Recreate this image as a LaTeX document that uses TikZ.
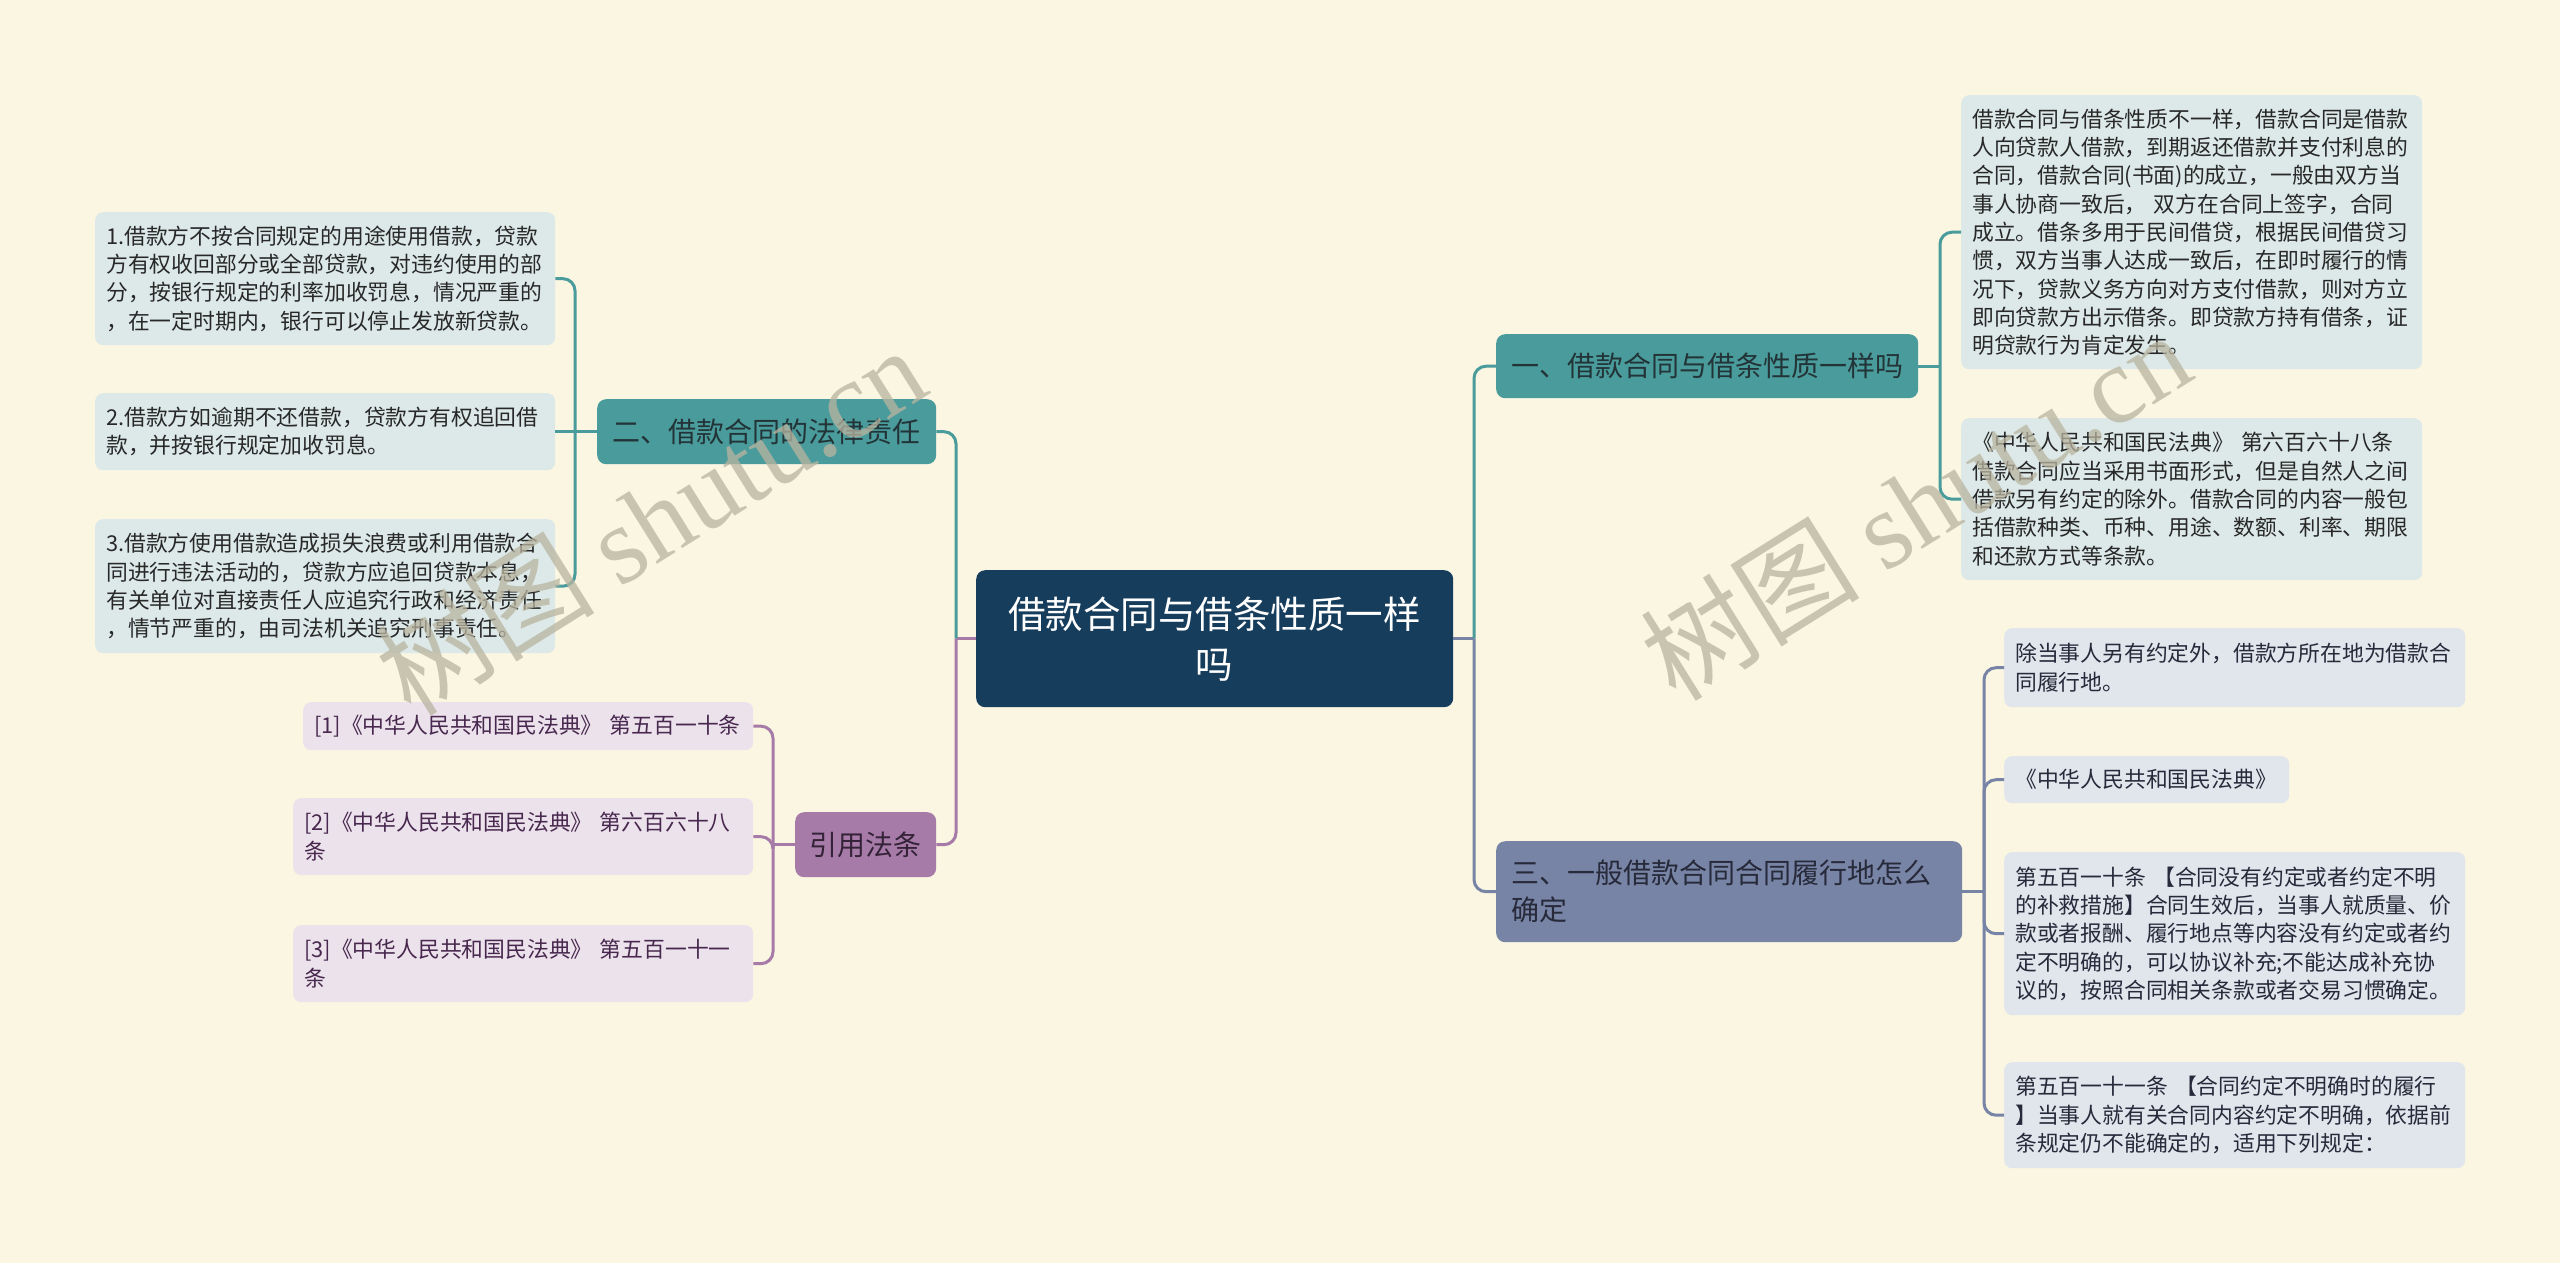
\documentclass[tikz,border=0pt]{standalone}
\usepackage{fontspec}
\setmainfont{Noto Sans CJK SC}
\newfontfamily\wmcjk{Noto Sans CJK SC}
\newfontfamily\wmserif{Liberation Serif}
\usetikzlibrary{calc}
\definecolor{bgc}{RGB}{250,246,226}
\definecolor{ctrc}{RGB}{23,61,92}
\definecolor{tealc}{RGB}{74,155,155}
\definecolor{purc}{RGB}{167,123,168}
\definecolor{slatec}{RGB}{120,132,165}
\definecolor{tealleaf}{RGB}{220,233,232}
\definecolor{purleaf}{RGB}{236,226,236}
\definecolor{slateleaf}{RGB}{225,229,236}
\definecolor{tealtxt}{RGB}{35,52,56}
\definecolor{purtxt}{RGB}{52,34,56}
\definecolor{slatetxt}{RGB}{38,42,58}
\definecolor{leaftxt}{RGB}{40,40,40}
\definecolor{purleaftxt}{RGB}{72,40,78}
\definecolor{wmc}{RGB}{185,180,160}
\tikzset{
  boxbase/.style={anchor=north west, inner ysep=0pt, rounded corners=8pt},
  leafbox/.style={boxbase, inner xsep=11pt, align=left,
    font=\fontsize{21.8pt}{28.3pt}\selectfont},
  leafT/.style={leafbox, fill=tealleaf, text=leaftxt},
  leafP/.style={leafbox, fill=purleaf, text=purleaftxt},
  leafS/.style={leafbox, fill=slateleaf, text=slatetxt},
  branchbox/.style={boxbase, inner xsep=15pt, rounded corners=9pt,
    font=\fontsize{28pt}{37pt}\selectfont},
  centerbox/.style={boxbase, inner xsep=18pt, align=center, fill=ctrc, text=white,
    rounded corners=9pt, font=\fontsize{37.5pt}{50pt}\selectfont},
  lnk/.style={line width=3pt, rounded corners=12pt},
  tealline/.style={lnk, draw=tealc},
  purline/.style={lnk, draw=purc},
  slateline/.style={lnk, draw=slatec},
  wm/.style={text=wmc, opacity=0.75, font=\fontsize{110pt}{120pt}\selectfont}
}
\begin{document}
\begin{tikzpicture}[x=1pt,y=-1pt]
\fill[bgc] (0,0) rectangle (2560,1263);
\useasboundingbox (0,0) rectangle (2560,1263);

% center
\node[centerbox, minimum width=477pt, minimum height=137pt, text width=441pt] (c) at (976,570)
  {借款合同与借条性质一样\\吗};

% branches
\node[branchbox, fill=tealc, text=tealtxt, minimum width=422pt, minimum height=64pt] (b1) at (1496,334)
  {一、借款合同与借条性质一样吗};
\node[branchbox, fill=tealc, text=tealtxt, minimum width=339pt, minimum height=65pt] (b2) at (597,399)
  {二、借款合同的法律责任};
\node[branchbox, fill=slatec, text=slatetxt, align=left, minimum width=466pt, minimum height=101pt, text width=436pt] (b3) at (1496,841)
  {三、一般借款合同合同履行地怎么\\确定};
\node[branchbox, fill=purc, text=purtxt, minimum width=141pt, minimum height=65pt, inner xsep=0pt] (b4) at (795,812)
  {引用法条};

% left leaves
\node[leafT, minimum width=460pt, minimum height=133pt, text width=438pt] (l1) at (95,212)
  {1.借款方不按合同规定的用途使用借款，贷款\\方有权收回部分或全部贷款，对违约使用的部\\分，按银行规定的利率加收罚息，情况严重的\\，在一定时期内，银行可以停止发放新贷款。};
\node[leafT, minimum width=460pt, minimum height=77pt, text width=438pt] (l2) at (95,393)
  {2.借款方如逾期不还借款，贷款方有权追回借\\款，并按银行规定加收罚息。};
\node[leafT, minimum width=460pt, minimum height=134pt, text width=438pt] (l3) at (95,519)
  {3.借款方使用借款造成损失浪费或利用借款合\\同进行违法活动的，贷款方应追回贷款本息，\\有关单位对直接责任人应追究行政和经济责任\\，情节严重的，由司法机关追究刑事责任。};

\node[leafP, minimum width=450pt, minimum height=48pt, text width=428pt] (r1) at (303,702)
  {[1]《中华人民共和国民法典》 第五百一十条};
\node[leafP, minimum width=460pt, minimum height=77pt, text width=438pt] (r2) at (293,798)
  {[2]《中华人民共和国民法典》 第六百六十八\\条};
\node[leafP, minimum width=460pt, minimum height=77pt, text width=438pt] (r3) at (293,925)
  {[3]《中华人民共和国民法典》 第五百一十一\\条};

% right leaves
\node[leafT, minimum width=461pt, minimum height=274pt, text width=439pt] (a1) at (1961,95)
  {借款合同与借条性质不一样，借款合同是借款\\人向贷款人借款，到期返还借款并支付利息的\\合同，借款合同(书面)的成立，一般由双方当\\事人协商一致后， 双方在合同上签字，合同\\成立。借条多用于民间借贷，根据民间借贷习\\惯，双方当事人达成一致后，在即时履行的情\\况下，贷款义务方向对方支付借款，则对方立\\即向贷款方出示借条。即贷款方持有借条，证\\明贷款行为肯定发生。};
\node[leafT, minimum width=461pt, minimum height=162pt, text width=439pt] (a2) at (1961,418)
  {《中华人民共和国民法典》 第六百六十八条\\借款合同应当采用书面形式，但是自然人之间\\借款另有约定的除外。借款合同的内容一般包\\括借款种类、币种、用途、数额、利率、期限\\和还款方式等条款。};

\node[leafS, minimum width=461pt, minimum height=79pt, text width=439pt] (s1) at (2004,628)
  {除当事人另有约定外，借款方所在地为借款合\\同履行地。};
\node[leafS, minimum width=285pt, minimum height=47pt, text width=263pt] (s2) at (2004,756)
  {《中华人民共和国民法典》};
\node[leafS, minimum width=461pt, minimum height=163pt, text width=439pt] (s3) at (2004,852)
  {第五百一十条 【合同没有约定或者约定不明\\的补救措施】合同生效后，当事人就质量、价\\款或者报酬、履行地点等内容没有约定或者约\\定不明确的，可以协议补充;不能达成补充协\\议的，按照合同相关条款或者交易习惯确定。};
\node[leafS, minimum width=461pt, minimum height=106pt, text width=439pt] (s4) at (2004,1062)
  {第五百一十一条 【合同约定不明确时的履行\\】当事人就有关合同内容约定不明确，依据前\\条规定仍不能确定的，适用下列规定：};

% trunk coordinates
\coordinate (tL) at (956,0);
\coordinate (tR) at (1474,0);
\coordinate (t2) at (575,0);
\coordinate (t4) at (773,0);
\coordinate (t1) at (1940,0);
\coordinate (t3) at (1984,0);

% center links
\draw[purline] (c.west) -- (c.west -| tL);
\draw[tealline] (c.west -| tL) |- (b2.east);
\draw[purline] (c.west -| tL) |- (b4.east);
\draw[slateline] (c.east) -- (c.east -| tR);
\draw[tealline] (c.east -| tR) |- (b1.west);
\draw[slateline] (c.east -| tR) |- (b3.west);

% branch 2
\draw[tealline] (b2.west) -- (b2.west -| t2);
\draw[tealline] (b2.west -| t2) |- (l1.east);
\draw[tealline] (b2.west -| t2) -- (l2.east);
\draw[tealline] (b2.west -| t2) |- (l3.east);

% branch 4
\draw[purline] (b4.west) -- (b4.west -| t4);
\draw[purline] (b4.west -| t4) |- (r1.east);
\draw[purline] (b4.west -| t4) |- (r2.east);
\draw[purline] (b4.west -| t4) |- (r3.east);

% branch 1
\draw[tealline] (b1.east) -- (b1.east -| t1);
\draw[tealline] (b1.east -| t1) |- (a1.west);
\draw[tealline] (b1.east -| t1) |- (a2.west);

% branch 3
\draw[slateline] (b3.east) -- (b3.east -| t3);
\draw[slateline] (b3.east -| t3) |- (s1.west);
\draw[slateline] (b3.east -| t3) |- (s2.west);
\draw[slateline] (b3.east -| t3) |- (s3.west);
\draw[slateline] (b3.east -| t3) |- (s4.west);

% watermarks
\node[wm, rotate=32] (wm1) at (650,520) {{\wmcjk 树图} {\wmserif shutu.cn}};
\node[wm, rotate=32] (wm2) at (1915,505) {{\wmcjk 树图} {\wmserif shutu.cn}};
\end{tikzpicture}
\end{document}
